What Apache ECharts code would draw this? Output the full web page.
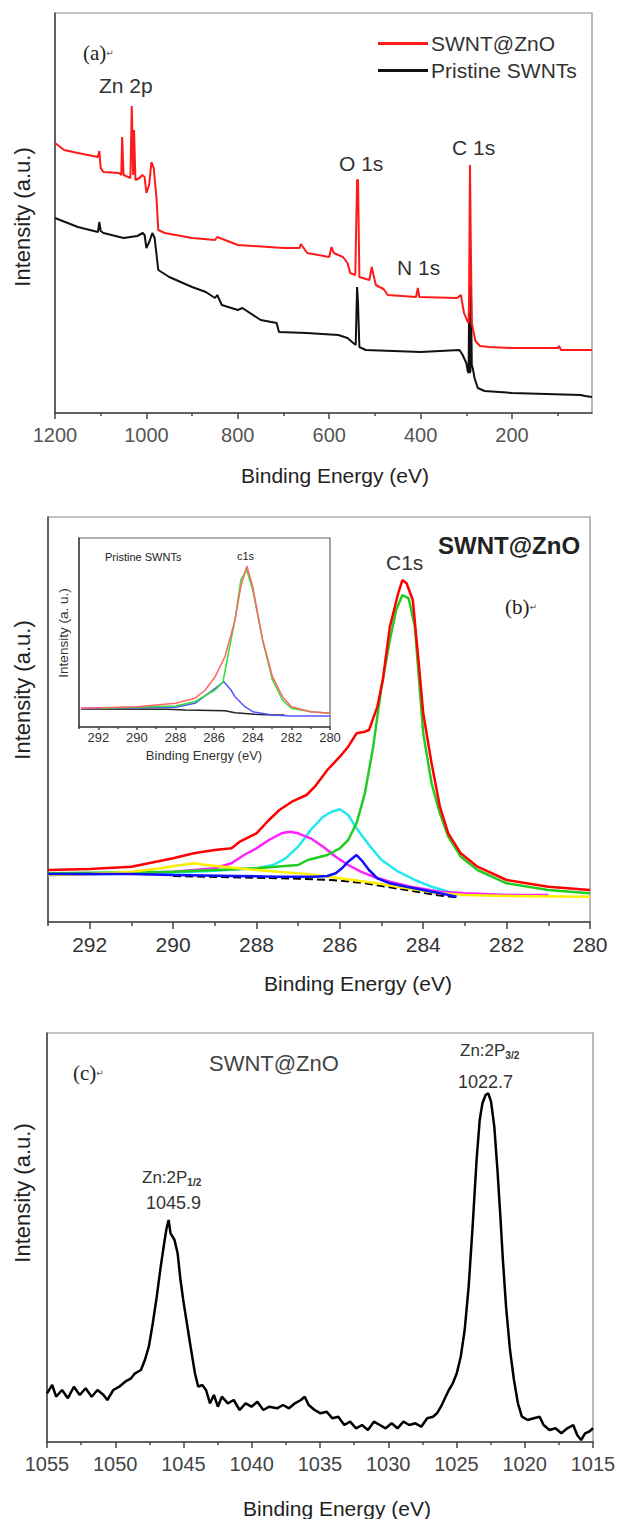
<!DOCTYPE html>
<html lang="en">

<head>
    <meta charset="UTF-8">
    <script src="https://cdn.jsdelivr.net/npm/echarts@6/dist/echarts.min.js"></script>
    <title>XPS spectra</title>
    <style>
        html, body { margin: 0; padding: 0; background: #fff; }
    </style>
</head>

<body>
    <div id="main" style="width: 621px; height: 1519px;"></div>

    <script>
        // ---- panel (a): survey spectra [binding energy, intensity] ----
        var aZnO = [[1200,270],[1180,263],[1150,260],[1106,256],[1103,262],[1100,245],[1094,241],[1060,240],[1055,238],[1053,276],[1050,238],[1035,235],[1032,307],[1029,238],[1027,283],[1024,233],[1015,235],[1009,238],[1004,236],[1000,220],[994,228],[989,251],[984,245],[978,215],[974,183],[960,180],[900,175],[850,173],[845,176],[800,168],[700,165],[665,165],[662,169],[648,160],[600,156],[595,166],[590,160],[570,156],[560,150],[554,140],[543,138],[539,233],[537,233],[534,136],[512,133],[507,146],[498,128],[490,126],[481,124],[472,118],[410,116],[406,125],[403,116],[320,115],[312,118],[305,100],[298,92],[295,90],[294,113],[292,248],[290,163],[288,90],[285,83],[280,72],[270,67],[250,66],[200,65],[100,65],[97,67],[93,63],[25,63]];
        var aPristine = [[1200,195],[1150,186],[1106,181],[1103,191],[1100,182],[1094,180],[1050,175],[1020,177],[1008,180],[1004,178],[1000,165],[993,172],[987,180],[982,175],[977,155],[974,143],[950,136],[900,126],[870,121],[850,115],[845,118],[835,108],[800,103],[790,105],[750,93],[715,90],[710,81],[650,80],[580,78],[560,75],[550,71],[542,68],[539,126],[537,110],[534,66],[520,63],[400,61],[315,63],[308,58],[300,50],[297,42],[295,40],[294,100],[293,40],[291,42],[290,128],[288,48],[286,45],[282,35],[275,25],[260,22],[200,20],[50,18],[40,17],[25,16]];
        var aMajor = [200, 400, 600, 800, 1000, 1200];
        var aMinor = [100, 300, 500, 700, 900, 1100];

        // ---- panel (b): C1s fit of SWNT@ZnO ----
        var bTotal = [[293,52],[292,53],[291,55.3],[290,63.7],[289.5,68.7],[289,72],[288.6,73.7],[288.4,80.3],[288,88.7],[287.7,102],[287.45,112],[287.15,120.3],[286.8,127],[286.6,135.3],[286.3,152],[286,165.3],[285.8,175.3],[285.6,188.7],[285.4,190.3],[285.3,192],[285.1,215.3],[284.97,242],[284.8,295.3],[284.6,328.7],[284.5,342],[284.4,338.7],[284.25,322],[284.1,255.3],[284,208.7],[283.8,158.7],[283.6,115.3],[283.4,88.7],[283.1,68.7],[282.7,55.3],[282,42],[281,35.3],[280,32]];
        var bMain = [[293,48.7],[290,50.3],[288,53.7],[287,57],[286.77,62],[286.3,67],[286,73.7],[285.8,82],[285.6,98.7],[285.4,128.7],[285.2,175.3],[285,235.3],[284.8,282],[284.65,312],[284.5,327],[284.35,323.7],[284.2,295.3],[284,188.7],[283.8,138.7],[283.6,108.7],[283.4,85.3],[283.1,65.3],[282.7,52],[282,38.7],[281,32],[280,28.7]];
        var bCyan = [[293,47],[290,49.3],[289,51.3],[288,53.7],[287.6,57],[287.3,63.7],[287,75.3],[286.7,92],[286.4,105.3],[286.2,110.3],[286,112.7],[285.8,107],[285.6,93.7],[285.3,77],[285,62],[284.6,50.3],[284.2,42],[283.8,35.3],[283.4,30.3],[283,28],[282,27],[281,26.3]];
        var bMagenta = [[293,47],[291,48.7],[290,50.3],[289,53.7],[288.6,58.7],[288.3,67],[288,73.7],[287.7,82],[287.4,88.7],[287.2,90.3],[287,88.7],[286.7,83.7],[286.4,75.3],[286.1,65.3],[285.8,57],[285.5,50.3],[285.2,45.3],[284.8,40.3],[284.3,35.3],[283.6,30.3],[283,28.7],[282,27],[281,27]];
        var bBlue = [[293,48],[291,48],[290,47],[288.5,46],[287.5,45.3],[286.6,45.3],[286.3,46],[286.1,48.7],[285.95,53.7],[285.8,60.3],[285.6,67],[285.45,60.3],[285.3,52],[285.1,43.7],[284.8,38.7],[284.4,35.3],[284,32],[283.6,28.7],[283.2,25.3]];
        var bYellow = [[293,47],[292,48],[291,50.3],[290.3,53.7],[289.8,57],[289.5,58.7],[289.2,57],[288.8,55.3],[288.2,52.7],[287.5,50.3],[286.8,48],[286,43.7],[285.2,39.3],[284.4,33.7],[283.6,28.7],[283,27],[282,26],[280,25.3]];
        var bBaseline = [[290,46],[288,44.3],[287,43.3],[286.2,42],[285.5,39.3],[285,36],[284.3,31.3],[283.7,27],[283.2,24.7]];
        var bMajor = [280, 282, 284, 286, 288, 290, 292];
        var bMinor = [281, 283, 285, 287, 289, 291, 293];

        // ---- inset of (b): C1s fit of pristine SWNTs ----
        var iTotal = [[292.9,18.7],[290,20.3],[288,23.7],[287,28.7],[286.46,37],[285.95,50.3],[285.44,70.3],[284.92,107],[284.62,140.3],[284.31,161],[284,140.3],[283.49,87],[282.98,50.3],[282.46,30.3],[282,20.3],[281,15.3],[280,13.7]];
        var iMain = [[291.9,18.7],[288,21],[287,25.3],[285.95,37],[285.54,45.3],[285.23,77],[284.92,107],[284.62,147],[284.31,157],[284,137],[283.49,87],[282.98,47],[282.46,27],[282,18.7],[281,15.3],[280,13.7]];
        var iBlue = [[292.9,18.7],[288,19.7],[287,23.7],[285.95,38.7],[285.5,45.3],[285.13,37],[284.92,30.3],[284.41,20.3],[284,15.3],[282.98,12],[282,11],[280,11]];
        var iBase = [[292.9,18],[288.4,17.7],[287.5,17],[285.44,16.3],[284.92,14.3],[283.9,12.7],[282.98,12],[282.36,12]];

        // ---- panel (c): Zn 2p ----
        var cEnergy = [1055.00,1054.62,1054.33,1053.90,1053.47,1053.03,1052.60,1052.17,1051.73,1051.30,1050.86,1050.58,1050.14,1049.71,1049.27,1048.84,1048.55,1048.12,1047.83,1047.54,1047.25,1046.96,1046.67,1046.38,1046.24,1046.09,1045.95,1045.80,1045.66,1045.43,1045.22,1045.02,1044.79,1044.56,1044.36,1044.16,1043.92,1043.63,1043.35,1043.06,1042.77,1042.48,1042.19,1041.75,1041.32,1040.89,1040.45,1040.02,1039.59,1039.15,1038.72,1038.14,1037.71,1037.27,1036.84,1036.40,1036.12,1035.83,1035.39,1034.96,1034.52,1034.09,1033.66,1033.22,1032.79,1032.36,1031.92,1031.49,1031.05,1030.62,1030.19,1029.75,1029.32,1028.89,1028.45,1028.02,1027.58,1027.15,1026.72,1026.43,1026.14,1025.85,1025.56,1025.27,1024.98,1024.69,1024.40,1024.11,1023.82,1023.53,1023.30,1023.10,1022.87,1022.67,1022.47,1022.23,1022.00,1021.80,1021.60,1021.37,1021.08,1020.79,1020.50,1020.21,1019.78,1019.34,1018.91,1018.62,1018.19,1017.75,1017.32,1016.88,1016.45,1016.16,1015.87,1015.58,1015.29,1015.00];
        var cIntensity = [48.7,57,45.3,52,43.7,55.3,47,53.7,45.3,52,47,42,52,55.3,60.3,63.7,68.7,72,82,95.3,118.7,145.3,175.3,202,213.7,222,208.7,205.3,202,188.7,162,142,122,102,85.3,68.7,55.3,57,52,38.7,47,35.3,45.3,38.7,42,32,38.7,35.3,40.3,32,35.3,33.7,37,33.7,38.7,42,45.3,37,32,28.7,30.3,23.7,25.3,17,20.3,13.7,17,12,20.3,17,13.7,18.7,13.7,20.3,17,18.7,15.3,23.7,25.3,28.7,35.3,43.7,52,58.7,68.7,85.3,112,155.3,215.3,282,322,338.7,347,348.7,340.3,315.3,272,228.7,182,135.3,92,62,38.7,25.3,22,23.7,25.3,17,12,13.7,8.7,13.7,17,7,2,8.7,10.3,13.7];
        var cMajor = [1015, 1020, 1025, 1030, 1035, 1040, 1045, 1050, 1055];
        var cMinor = [1017.5, 1022.5, 1027.5, 1032.5, 1037.5, 1042.5, 1047.5, 1052.5];

        var SANS = 'Liberation Sans, Arial, sans-serif';
        var SERIF = 'Liberation Serif, Times New Roman, serif';

        var chartDom = document.getElementById('main');
        var myChart = echarts.init(chartDom, null, { renderer: 'svg' });

        function zip(xs, ys) {
            return xs.map(function (x, i) { return [x, ys[i]]; });
        }

        // one labelled axis and one axis that only carries the short minor ticks
        function xAxes(grid, min, max, major, minor, opt) {
            return [{
                type: 'value', gridIndex: grid, min: min, max: max, inverse: true,
                axisLine: { show: true, lineStyle: { color: '#444', width: 1.5 } },
                axisTick: { show: true, inside: false, length: opt.len, customValues: major, lineStyle: { color: '#444', width: 1.5 } },
                axisLabel: {
                    customValues: major, margin: opt.margin, fontSize: opt.size, color: opt.color, fontFamily: SANS,
                    // plain numbers, no thousands separator
                    formatter: function (v) { return String(v); }
                },
                splitLine: { show: false }
            }, {
                type: 'value', gridIndex: grid, min: min, max: max, inverse: true, position: 'bottom',
                axisLine: { show: false },
                axisTick: { show: true, inside: false, length: opt.minorLen, customValues: minor, lineStyle: { color: '#444', width: 1.5 } },
                axisLabel: { show: false },
                splitLine: { show: false }
            }];
        }

        function yAxis(grid, max) {
            return {
                type: 'value', gridIndex: grid, min: 0, max: max,
                axisLine: { show: true, lineStyle: { color: '#444', width: 1.5 } },
                axisTick: { show: false }, axisLabel: { show: false }, splitLine: { show: false }
            };
        }

        function line(name, xi, yi, data, color, width, z, type) {
            return {
                name: name, type: 'line', xAxisIndex: xi, yAxisIndex: yi, data: data,
                symbol: 'none', smooth: false, z: z, silent: true,
                lineStyle: { color: color, width: width, type: type || 'solid' },
                itemStyle: { color: color }
            };
        }

        function txt(x, y, text, size, opt) {
            opt = opt || {};
            return {
                type: 'text', x: x, y: y, rotation: opt.rot || 0, z: 100,
                style: {
                    text: text, fontSize: size, fontFamily: opt.family || SANS,
                    fontWeight: opt.weight || 'normal', fill: opt.color || '#222',
                    align: opt.align || 'left', verticalAlign: 'middle', rich: opt.rich
                }
            };
        }

        var tagRich = {
            p: { fontFamily: SERIF, fontSize: 21, fill: '#222' },
            r: { fontFamily: 'DejaVu Sans', fontSize: 9, fill: '#555' }
        };
        var subRich = {
            m: { fontFamily: SANS, fontSize: 17, fill: '#333' },
            s: { fontFamily: SANS, fontSize: 10, fontWeight: 'bold', fill: '#333', padding: [10, 0, 0, 0] }
        };

        var xs = []
            .concat(xAxes(0, 25, 1200, aMajor, aMinor, { len: 6, minorLen: 3, margin: 12, size: 20, color: '#555' }))
            .concat(xAxes(1, 280, 293, bMajor, bMinor, { len: 7, minorLen: 4, margin: 12, size: 21, color: '#333' }))
            .concat(xAxes(2, 280, 293, bMajor, bMinor, { len: 3, minorLen: 2, margin: 4, size: 13, color: '#333' }))
            .concat(xAxes(3, 1015, 1055, cMajor, cMinor, { len: 6, minorLen: 3, margin: 12, size: 20, color: '#444' }));

        option = {
            backgroundColor: '#fff',
            animation: false,
            grid: [
                { left: 55, top: 13, width: 537, height: 400, show: true, borderColor: '#888', borderWidth: 1.2 },
                { left: 48, top: 517, width: 542, height: 405, show: true, borderColor: '#888', borderWidth: 1.2 },
                { left: 79, top: 538, width: 251, height: 189, show: true, borderColor: '#666', borderWidth: 1.2, backgroundColor: '#fff' },
                { left: 47, top: 1033, width: 546, height: 409, show: true, borderColor: '#888', borderWidth: 1.2 }
            ],
            xAxis: xs,
            yAxis: [yAxis(0, 400), yAxis(1, 405), yAxis(2, 189), yAxis(3, 409)],
            legend: {
                data: ['SWNT@ZnO', 'Pristine SWNTs'],
                orient: 'vertical', left: 373, top: 28, itemGap: 6,
                icon: 'rect', itemWidth: 50, itemHeight: 3,
                selectedMode: false,
                textStyle: { fontFamily: SANS, fontSize: 21, color: '#333', padding: [0, 0, 0, -2] }
            },
            series: [
                line('SWNT@ZnO', 0, 0, aZnO, '#ff1a1a', 2, 3),
                line('Pristine SWNTs', 0, 0, aPristine, '#111', 2, 2),

                line('baseline', 2, 1, bBaseline, '#000', 2, 2, 'dashed'),
                line('C=O', 2, 1, bCyan, '#22e8f0', 2.5, 3),
                line('O-C=O', 2, 1, bMagenta, '#ff22ff', 2.5, 3),
                line('C-C', 2, 1, bMain, '#22cc22', 2.5, 4),
                line('pi', 2, 1, bYellow, '#ffee00', 2.5, 5),
                line('C-O', 2, 1, bBlue, '#1010ff', 2.5, 5),
                line('envelope', 2, 1, bTotal, '#ff0000', 2.5, 6),

                line('inset base', 4, 2, iBase, '#222', 1.5, 7),
                line('inset blue', 4, 2, iBlue, '#5555ff', 1.5, 8),
                line('inset green', 4, 2, iMain, '#33dd33', 1.5, 8),
                line('inset red', 4, 2, iTotal, '#ff6666', 1.5, 9),

                line('Zn 2p', 6, 3, zip(cEnergy, cIntensity), '#000', 2.5, 3)
            ],
            graphic: [
                // (a)
                txt(83, 53, '{p|(a)}{r|\u21b5}', 21, { rich: tagRich }),
                txt(99, 85, 'Zn 2p', 21, { color: '#333' }),
                txt(339, 163, 'O 1s', 21, { color: '#333' }),
                txt(452, 147, 'C 1s', 21, { color: '#333' }),
                txt(397, 267, 'N 1s', 21, { color: '#333' }),
                txt(335, 475, 'Binding Energy (eV)', 21, { align: 'center' }),
                txt(22, 217, 'Intensity (a.u.)', 22, { align: 'center', rot: Math.PI / 2 }),

                // (b)
                txt(438, 545, 'SWNT@ZnO', 24, { weight: 'bold' }),
                txt(386, 562, 'C1s', 21, { color: '#333' }),
                txt(505, 607, '{p|(b)}{r|\u21b5}', 21, { rich: tagRich }),
                txt(358, 983, 'Binding Energy (eV)', 21, { align: 'center' }),
                txt(22, 690, 'Intensity (a.u.)', 22, { align: 'center', rot: Math.PI / 2 }),
                txt(105, 557, 'Pristine SWNTs', 11),
                txt(237, 556, 'c1s', 11),
                txt(204, 755, 'Binding Energy (eV)', 13, { align: 'center', color: '#333' }),
                txt(63, 633, 'Intensity (a. u.)', 13.5, { align: 'center', rot: Math.PI / 2, color: '#333' }),

                // (c)
                txt(73, 1073, '{p|(c)}{r|\u21b5}', 21, { rich: tagRich }),
                txt(209, 1063, 'SWNT@ZnO', 22, { color: '#444' }),
                txt(460, 1050, '{m|Zn:2P}{s|3/2}', 17, { rich: subRich }),
                txt(458, 1082, '1022.7', 18, { color: '#333' }),
                txt(142, 1177, '{m|Zn:2P}{s|1/2}', 17, { rich: subRich }),
                txt(146, 1203, '1045.9', 18, { color: '#333' }),
                txt(337, 1508, 'Binding Energy (eV)', 21, { align: 'center' }),
                txt(22, 1193, 'Intensity (a.u.)', 22, { align: 'center', rot: Math.PI / 2 })
            ]
        };
        myChart.setOption(option);
    </script>
</body>

</html>
